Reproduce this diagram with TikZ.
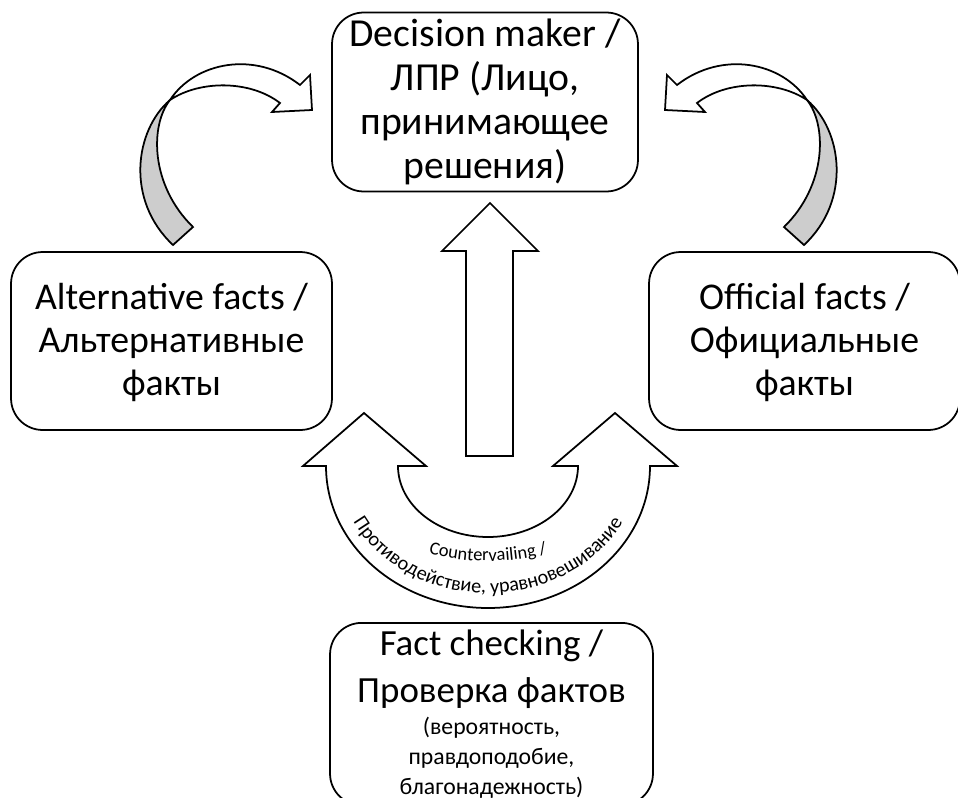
\documentclass[tikz,border=0pt]{standalone}
\usepackage{fontspec}
\setmainfont{Carlito}
\usetikzlibrary{decorations.text}
\definecolor{bandgray}{RGB}{205,205,205}
\tikzset{
  factbox/.style={draw, line width=1pt, rounded corners=18pt, align=center,
    font=\fontsize{21.5}{24.5}\selectfont, inner sep=0pt},
  blockarrow/.style={draw, line width=1pt, fill=white, line join=miter},
  bandarrow/.style={draw, line width=1pt, fill=bandgray},
}

\begin{document}
\begin{tikzpicture}[x=0.02cm, y=-0.02cm]
\useasboundingbox (0,0) rectangle (958,798);
\clip (0,0) rectangle (958,798);

\node [factbox, minimum width=6.12cm, minimum height=3.58cm, font=\fontsize{22.6}{25}\selectfont] (dm) at (485,102)
  {Decision maker /\\ЛПР (Лицо,\\принимающее\\решения)};
\node [factbox, minimum width=6.42cm, minimum height=3.56cm] (alt) at (171.5,341)
  {\rule{0pt}{17pt}Alternative facts /\\Альтернативные\\факты};
\node [factbox, minimum width=6.22cm, minimum height=3.56cm] (off) at (804.5,341)
  {\rule{0pt}{17pt}Official facts /\\Официальные\\факты};
\node [factbox, text width=6.3cm, minimum width=6.46cm, align=flush center, anchor=north, inner ysep=4pt,
  font=\fontsize{21}{26.5}\selectfont] (fc) at (491.5,622)
  {Fact checking /\\Проверка фактов\par\vspace{1.5pt}
   \fontsize{13.5}{17}\selectfont(вероятность,\\правдоподобие,\\благонадежность)\par\vspace{8pt}};

% up arrow
\draw [blockarrow] (466,456) -- (466,251) -- (442,251) -- (490,203) -- (538,251) -- (513,251) -- (513,456) -- cycle;

% countervailing
\draw [blockarrow] (303,466) -- (364,413) -- (426,466) -- (398,466)
  arc [start angle=180, end angle=0, x radius=90, y radius=71]
  -- (553,466) -- (615,413) -- (677,466) -- (650,466)
  arc [start angle=0, end angle=180, x radius=162, y radius=142] -- cycle;
\path [decorate, decoration={text along path, text align=center,
  text={|\fontsize{10.5}{12}\selectfont|Countervailing /}}]
  (338,466) arc [start angle=180, end angle=0, x radius=150, y radius=95];
\path [decorate, decoration={text along path, text align=center,
  text={|\fontsize{11.5}{13}\selectfont|Противодействие, уравновешивание}}]
  (338,466) arc [start angle=180, end angle=0, x radius=150, y radius=127];

% curved arrows to decision maker
\foreach \sx/\dx in {1/0, -1/977} {
  \begin{scope}[shift={(\dx,0)}, xscale=\sx]
  \draw [bandarrow] (170,100) .. controls (135,130) and (125,200) .. (173,245) -- (193,227)
    .. controls (150,185) and (150,125) .. (170,100) -- cycle;
  \draw [blockarrow] (170,100) .. controls (195,62) and (255,50) .. (300,85) -- (310,75) -- (312,110)
    -- (272,112) -- (280,103) .. controls (250,80) and (200,80) .. (170,100) -- cycle;
  \end{scope}
}
\end{tikzpicture}
\end{document}
